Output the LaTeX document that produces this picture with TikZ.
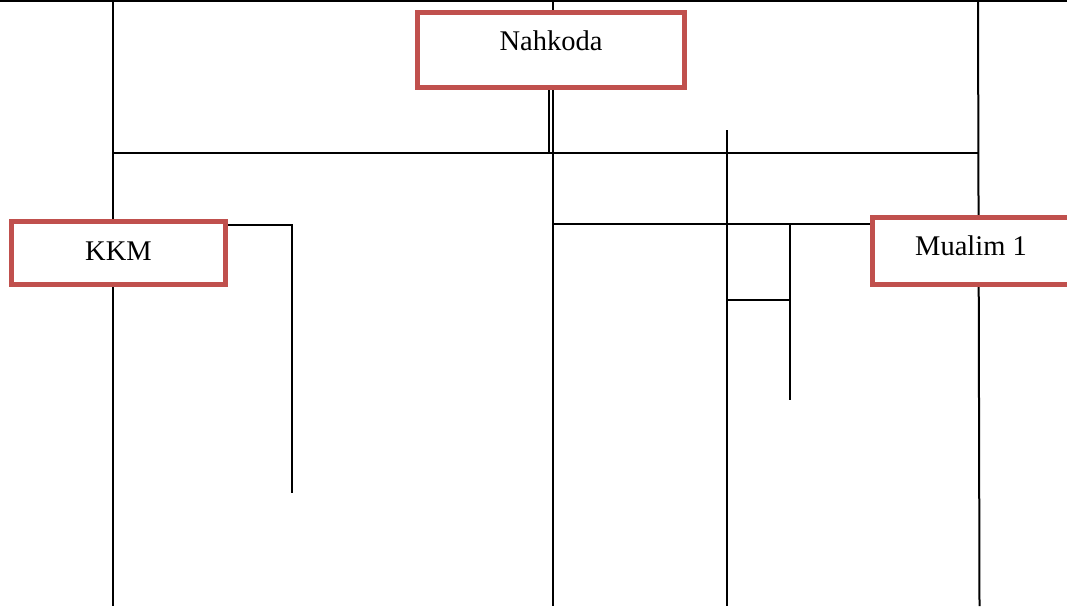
\documentclass[tikz,border=0pt]{standalone}
\usepackage{fontspec}
\setmainfont{Liberation Serif}
\definecolor{boxred}{HTML}{C0504D}
\tikzset{
  orgbox/.style={draw=boxred, line width=5pt, fill=white, rectangle,
    inner sep=0pt, font=\fontsize{28.5}{30}\selectfont, text height=20pt},
  wire/.style={draw=black, line width=2pt}
}
\begin{document}
\begin{tikzpicture}[x=1pt,y=-1pt]
  \useasboundingbox (0,0) rectangle (1067,606);
  \clip (0,0) rectangle (1067,606);

  % free ends of the lines
  \coordinate (tl) at (0,1);
  \coordinate (tr) at (1067,1);
  \coordinate (lt) at (113,0);
  \coordinate (lb) at (113,606);
  \coordinate (rt) at (978,0);
  \coordinate (rb) at (979.5,606);
  \coordinate (nt) at (553,0);
  \coordinate (hl) at (113,153);
  \coordinate (hr) at (979,153);
  \coordinate (dj) at (549,153);
  \coordinate (cb) at (553,606);
  \coordinate (mt) at (727,130);
  \coordinate (mb) at (727,606);
  \coordinate (bj) at (553,224);
  \coordinate (st) at (790,224);
  \coordinate (sb) at (790,400);
  \coordinate (sl) at (727,300);
  \coordinate (sr) at (790,300);
  \coordinate (kc) at (292,225);
  \coordinate (kb) at (292,493);

  % frame lines
  \draw[wire] (tl) -- (tr);
  \draw[wire] (lt) -- (lb);
  \draw[wire] (rt) -- (rb);
  \draw[wire] (hl) -- (hr);
  \draw[wire] (mt) -- (mb);
  \draw[wire] (sl) -- (sr);
  \draw[wire] (st) -- (sb);

  % boxes
  \node[orgbox, minimum width=267pt, minimum height=75pt, text depth=20pt]
    (nahkoda) at (551,50) {Nahkoda};
  \node[orgbox, minimum width=214pt, minimum height=63pt, text depth=6pt]
    (kkm) at (118.5,253) {KKM};
  \node[orgbox, minimum width=197pt, minimum height=67pt, text depth=12pt]
    (mualim) at (971,251) {Mualim 1};

  % connectors
  \draw[wire] (nt) -- (nt |- nahkoda.north);
  \draw[wire] (nahkoda.south -| dj) -- (dj);
  \draw[wire] (nahkoda.south -| cb) -- (cb);
  \draw[wire] (bj) -- (bj -| mualim.west);
  \draw[wire] (kkm.east |- kc) -- (kc) -- (kb);
\end{tikzpicture}
\end{document}
